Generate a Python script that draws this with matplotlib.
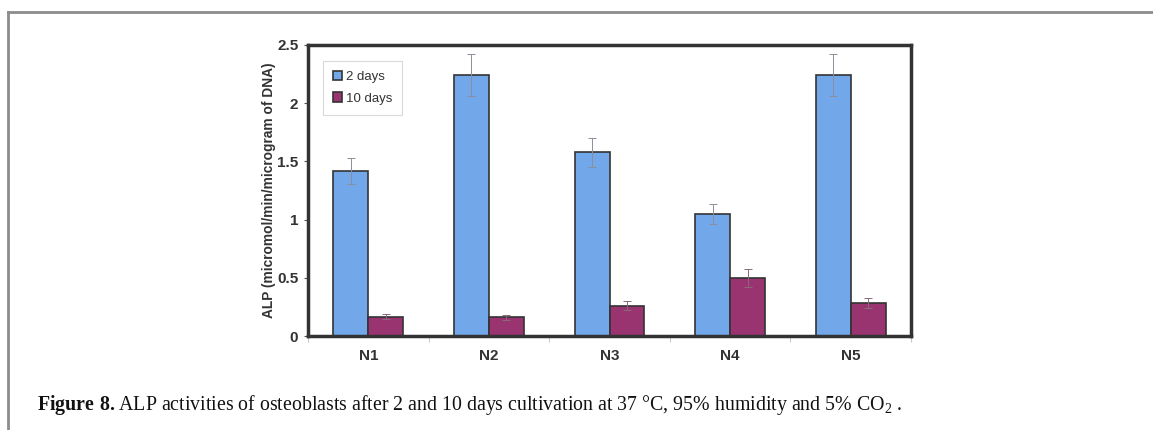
import matplotlib
matplotlib.use("Agg")
import matplotlib.pyplot as plt
import numpy as np
from matplotlib.lines import Line2D

categories = ["N1", "N2", "N3", "N4", "N5"]
days2 = [1.42, 2.24, 1.58, 1.05, 2.24]
days2_err = [0.11, 0.18, 0.125, 0.085, 0.18]
days10 = [0.165, 0.16, 0.26, 0.50, 0.28]
days10_err = [0.02, 0.02, 0.04, 0.075, 0.043]
yticks = [0, 0.5, 1, 1.5, 2, 2.5]
ytick_labels = ["0", "0.5", "1", "1.5", "2", "2.5"]
series_labels = ["2 days", "10 days"]

plt.rcParams['font.family'] = ['Liberation Sans', 'DejaVu Sans']
plt.rcParams['mathtext.fontset'] = 'custom'
plt.rcParams['mathtext.rm'] = 'Liberation Serif'
plt.rcParams['mathtext.bf'] = 'Liberation Serif:bold'

W, H = 1153, 430
fig = plt.figure(figsize=(W / 100, H / 100), dpi=100)
fig.patch.set_facecolor('white')

# page frame lines
fig.add_artist(Line2D([8 / W, 1], [1 - 12 / H, 1 - 12 / H], color='#8c8c8c', lw=2))
fig.add_artist(Line2D([8 / W, 8 / W], [0, 1 - 12 / H], color='#8c8c8c', lw=2))

left, right, top, bottom = 308, 911, 45, 336
ax = fig.add_axes([left / W, 1 - bottom / H, (right - left) / W, (bottom - top) / H])

x = np.arange(len(categories))
bw = 0.29
blue = '#72a7ea'
purple = '#9a3470'
ax.bar(x - bw / 2, days2, bw, color=blue, edgecolor='#333333', linewidth=1.2,
       label=series_labels[0], zorder=2)
ax.bar(x + bw / 2, days10, bw, color=purple, edgecolor='#333333', linewidth=1.2,
       label=series_labels[1], zorder=2)
ax.errorbar(x - bw / 2, days2, yerr=days2_err, fmt='none', ecolor='#8a8f9a',
            elinewidth=0.7, capsize=2.6, capthick=0.7, zorder=3)
ax.errorbar(x + bw / 2, days10, yerr=days10_err, fmt='none', ecolor='#8a6a7a',
            elinewidth=0.7, capsize=2.6, capthick=0.7, zorder=3)

ax.set_xlim(-0.5, len(categories) - 0.5)
ax.set_ylim(0, 2.5)
ax.set_yticks(yticks)
ax.set_yticklabels(ytick_labels, fontsize=11, fontweight='bold', color='#333333')
ax.set_xticks(x)
ax.set_xticklabels(categories, fontsize=11, fontweight='bold', color='#333333')
ax.tick_params(axis='x', length=0, pad=9)
ax.tick_params(axis='y', length=3, width=0.8, color='#555555', pad=4)
ax.set_xticks(np.arange(-0.5, len(categories), 1.0), minor=True)
ax.tick_params(axis='x', which='minor', length=4, width=0.6, color='#bbbbbb', direction='out')

for s in ax.spines.values():
    s.set_color('#333333')
    s.set_linewidth(2.5)

ax.set_ylabel("ALP (micromol/min/microgram of DNA)", fontsize=9.9, fontweight='bold',
              color='#333333', labelpad=1)

leg = ax.legend(loc='upper left', bbox_to_anchor=(15 / (right - left), 1 - 16 / (bottom - top)),
                fontsize=9.5, frameon=True, fancybox=False, edgecolor='#d0d0d0',
                handlelength=0.7, handleheight=0.7, handletextpad=0.3,
                borderpad=0.75, labelspacing=0.7, borderaxespad=0)
leg.get_frame().set_linewidth(0.8)
for t in leg.get_texts():
    t.set_color('#333333')

fig.text(37 / W, 1 - 405 / H,
         r"$\mathbf{Figure\ 8.}$ALP activities of osteoblasts after 2 and 10 days cultivation at 37 °C, 95% humidity and 5% CO$_2$ .",
         fontsize=14.3, family='Liberation Serif', va='center', ha='left', color='#111111')

fig.savefig('out.png', dpi=100, facecolor='white')
